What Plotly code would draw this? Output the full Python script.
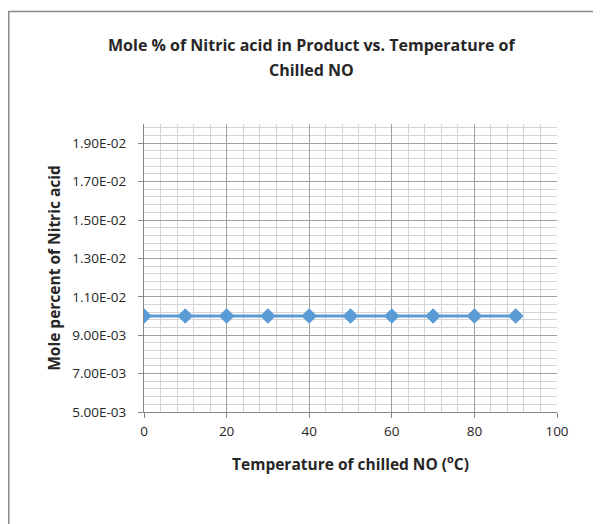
import plotly.graph_objects as go

# Data
temperature_c = [0, 10, 20, 30, 40, 50, 60, 70, 80, 90]
mole_percent = [0.0100, 0.0100, 0.0100, 0.0100, 0.0100, 0.0100, 0.0100, 0.0100, 0.0100, 0.0100]

y_tick_vals = [0.005, 0.007, 0.009, 0.011, 0.013, 0.015, 0.017, 0.019]
y_tick_text = ["5.00E-03", "7.00E-03", "9.00E-03", "1.10E-02", "1.30E-02", "1.50E-02", "1.70E-02", "1.90E-02"]
x_tick_vals = [0, 20, 40, 60, 80, 100]

title_line1 = "Mole % of Nitric acid in Product vs. Temperature of"
title_line2 = "Chilled NO"
x_title = "Temperature of chilled NO (<sup>o</sup>C)"
y_title = "Mole percent of Nitric acid"

# page has an 8px body margin; work in page pixels and convert
OFF = 8
W, H = 601 - OFF, 524 - OFF
PL, PR, PT, PB = 144, 557, 124, 412          # plot area in page pixels
ML, MR, MT, MB = PL - OFF, W - (PR - OFF), PT - OFF, H - (PB - OFF)
PW = W - ML - MR
PH = H - MT - MB


def px(xp):
    return (xp - PL) / PW


def py(yp):
    return (PB - yp) / PH


FONT = "'Open Sans', sans-serif"
TXT = "#262626"
MAJOR = "#a0a0a0"
MINOR = "#d4d4d4"
AXIS = "#868686"

fig = go.Figure()
fig.add_trace(go.Scatter(
    x=temperature_c, y=mole_percent, mode="lines+markers",
    line=dict(color="#5B9BD5", width=3),
    marker=dict(symbol="diamond", size=12, color="#5B9BD5"),
    showlegend=False,
))

fig.update_layout(
    width=W, height=H,
    margin=dict(l=ML, r=MR, t=MT, b=MB),
    paper_bgcolor="white", plot_bgcolor="white",
    font=dict(family=FONT, color=TXT, size=13),
    xaxis=dict(
        range=[0, 100], tickvals=x_tick_vals,
        showgrid=True, gridcolor=MAJOR, gridwidth=1,
        minor=dict(dtick=4, showgrid=True, gridcolor=MINOR, gridwidth=1),
        showline=True, linecolor=AXIS, linewidth=1,
        ticks="outside", ticklen=5, tickcolor=AXIS,
        tickfont=dict(size=13.5, color=TXT, family=FONT),
        ticklabelstandoff=2,
        zeroline=False,
        title=dict(text=x_title, font=dict(size=15.5, color=TXT, family=FONT, weight="bold"), standoff=19),
    ),
    yaxis=dict(
        range=[0.005, 0.020], tickvals=y_tick_vals, ticktext=y_tick_text,
        showgrid=True, gridcolor=MAJOR, gridwidth=1,
        minor=dict(dtick=0.0004, tick0=0.005, showgrid=True, gridcolor=MINOR, gridwidth=1),
        showline=True, linecolor=AXIS, linewidth=1,
        ticks="outside", ticklen=5, tickcolor=AXIS,
        tickfont=dict(size=13.5, color=TXT, family=FONT),
        ticklabelstandoff=9,
        zeroline=False,
        title=dict(text=y_title, font=dict(size=15.5, color=TXT, family=FONT, weight="bold"), standoff=7),
    ),
    annotations=[
        dict(text="<b>" + title_line1 + "</b>", xref="paper", yref="paper",
             x=px(311), y=py(45), xanchor="center", yanchor="middle",
             showarrow=False, font=dict(size=16, color=TXT, family=FONT)),
        dict(text="<b>" + title_line2 + "</b>", xref="paper", yref="paper",
             x=px(311), y=py(70), xanchor="center", yanchor="middle",
             showarrow=False, font=dict(size=16, color=TXT, family=FONT)),
    ],
    shapes=[
        dict(type="rect", xref="paper", yref="paper",
             x0=px(8.8), x1=px(640), y0=py(560), y1=py(11.5),
             line=dict(color="#898989", width=1.5), fillcolor="rgba(0,0,0,0)", layer="below"),
    ],
)

fig.write_html("out.html")
